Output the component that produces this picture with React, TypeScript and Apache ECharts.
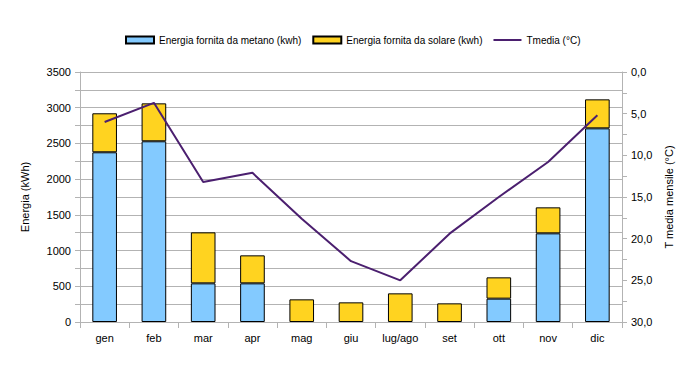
import React, { useEffect, useRef } from "react";
import * as echarts from "echarts";

const months = ["gen", "feb", "mar", "apr", "mag", "giu", "lug/ago", "set", "ott", "nov", "dic"];
const metano = [2376, 2530, 541, 541, 0, 0, 0, 0, 327, 1241, 2711];
const solare = [546, 531, 714, 392, 317, 275, 401, 261, 298, 364, 406];
const tmedia = [6.0, 3.7, 13.2, 12.1, 17.6, 22.7, 25.0, 19.4, 15.0, 10.8, 5.2];

const FONT = "Liberation Sans";

export default function App() {
  const ref = useRef<HTMLDivElement>(null);
  useEffect(() => {
    if (!ref.current) return;
    const chart = echarts.init(ref.current, undefined, { renderer: "svg" });
    chart.setOption({
      animation: false,
      textStyle: { fontFamily: FONT, color: "#000" },
      legend: {
        top: 30,
        left: 120,
        itemWidth: 28,
        itemHeight: 7,
        itemGap: 11,
        symbolKeepAspect: true,
        textStyle: { fontFamily: FONT, fontSize: 10, color: "#000" },
        data: [
          { name: "Energia fornita da metano (kwh)", icon: "rect" },
          { name: "Energia fornita da solare (kwh)", icon: "rect" },
          { name: "Tmedia (°C)", icon: "path://M0,0 L28,0 L28,2 L0,2 Z" },
        ],
      },
      grid: { left: 80, right: 70, top: 72, bottom: 47 },
      xAxis: {
        type: "category",
        data: months,
        axisLine: { lineStyle: { color: "#b3b3b3" } },
        axisTick: { show: true, length: 6, lineStyle: { color: "#b3b3b3" } },
        axisLabel: { color: "#000", fontSize: 11, fontFamily: FONT, margin: 10 },
      },
      yAxis: [
        {
          type: "value",
          min: 0,
          max: 3500,
          interval: 250,
          name: "Energia (kWh)",
          nameLocation: "middle",
          nameRotate: 90,
          nameGap: 50,
          nameTextStyle: { fontSize: 11, fontFamily: FONT, color: "#000" },
          axisLine: { show: true, lineStyle: { color: "#b3b3b3" } },
          axisTick: { show: true, length: 5, lineStyle: { color: "#b3b3b3" } },
          axisLabel: {
            fontSize: 11,
            fontFamily: FONT,
            color: "#000",
            margin: 9,
            formatter: (v: number) => (v % 500 === 0 ? String(v) : ""),
          },
          splitLine: { lineStyle: { color: "#b3b3b3" } },
        },
        {
          type: "value",
          min: 0,
          max: 30,
          interval: 2.5,
          inverse: true,
          position: "right",
          name: "T media mensile (°C)",
          nameLocation: "middle",
          nameRotate: 90,
          nameGap: 40,
          nameTextStyle: { fontSize: 11, fontFamily: FONT, color: "#000" },
          axisLine: { show: true, lineStyle: { color: "#b3b3b3" } },
          axisTick: { show: true, length: 5, lineStyle: { color: "#b3b3b3" } },
          axisLabel: {
            fontSize: 11,
            fontFamily: FONT,
            color: "#000",
            margin: 9,
            formatter: (v: number) => (v % 5 === 0 ? v.toFixed(1).replace(".", ",") : ""),
          },
          splitLine: { show: false },
        },
      ],
      series: [
        {
          name: "Energia fornita da metano (kwh)",
          type: "bar",
          stack: "e",
          barWidth: "50%",
          data: metano.map((v) => (v === 0 ? "-" : v)),
          itemStyle: { color: "#83caff", borderColor: "#000", borderWidth: 1 },
        },
        {
          name: "Energia fornita da solare (kwh)",
          type: "bar",
          stack: "e",
          barWidth: "50%",
          data: solare,
          itemStyle: { color: "#ffd320", borderColor: "#000", borderWidth: 1 },
        },
        {
          name: "Tmedia (°C)",
          type: "line",
          yAxisIndex: 1,
          data: tmedia,
          symbol: "none",
          lineStyle: { color: "#4b1f6f", width: 2 },
          itemStyle: { color: "#4b1f6f" },
        },
      ],
    });
    return () => chart.dispose();
  }, []);
  return (
    <div
      ref={ref}
      style={{ position: "absolute", left: 0, top: 0, width: 692, height: 369, background: "#fff" }}
    />
  );
}
